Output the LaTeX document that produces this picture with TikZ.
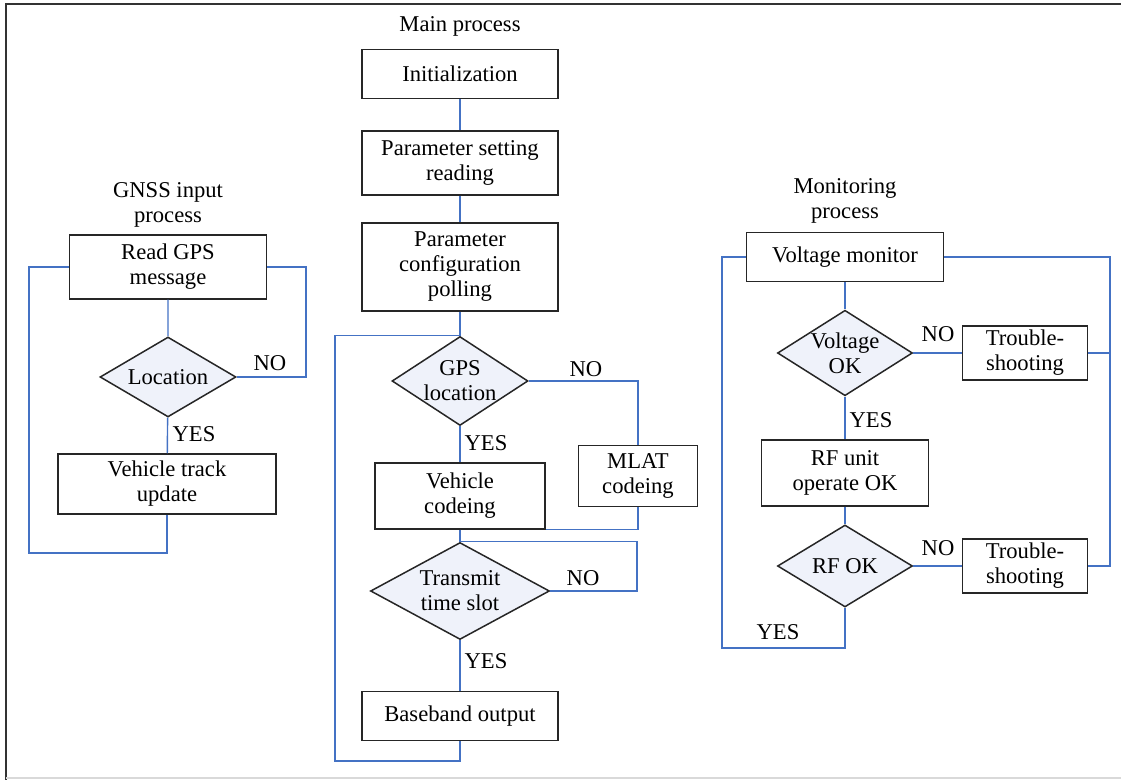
\documentclass[tikz,border=0pt]{standalone}
\usepackage{fontspec}
\setmainfont{Liberation Serif}
\usetikzlibrary{shapes.geometric}
\definecolor{linkblue}{RGB}{68,114,196}
\definecolor{diafill}{RGB}{239,242,250}
\tikzset{
flow/.style={x=0.5pt,y=-0.5pt,font=\rmfamily\fontsize{11.3}{12.5}\selectfont},
process/.style={rectangle,draw=black!85,line width=0.75pt,fill=white,align=center,inner sep=0pt},
decision/.style={diamond,draw=black!85,line width=0.75pt,fill=diafill,align=center,inner sep=-3pt},
link/.style={draw=linkblue,line width=0.7pt},
tag/.style={inner sep=0pt},
heading/.style={align=center,inner sep=0pt},
}
\begin{document}
\begin{tikzpicture}[flow]
\useasboundingbox (0,0) rectangle (1121,780);
\draw[black!80,line width=1pt] (6,780) -- (6,4) -- (1121,4);
\draw[black!15,line width=0.6pt] (6,778) -- (1121,778);

% GNSS input process
\node[heading] (gnsstitle) at (168,205) {GNSS input\\process};
\node[process,minimum width=98.5pt,minimum height=32pt] (read) at (168,267) {Read GPS\\message};
\node[decision,minimum width=68pt,minimum height=40pt] (loc) at (168,377) {Location};
\node[process,minimum width=109pt,minimum height=30pt] (track) at (167,484) {Vehicle track\\update};
\node[tag] (locno) at (270,363) {NO};
\node[tag] (locyes) at (194,434) {YES};

% Main process
\node[heading] (maintitle) at (460,26) {Main process};
\node[process,minimum width=98pt,minimum height=24.5pt] (init) at (460,74) {Initialization};
\node[process,minimum width=98pt,minimum height=32pt] (setting) at (460,163) {Parameter setting\\reading};
\node[process,minimum width=98pt,minimum height=44pt] (config) at (460,267) {Parameter\\configuration\\polling};
\node[decision,minimum width=68pt,minimum height=40.5pt] (gpsloc) at (460,381) {GPS\\location};
\node[process,minimum width=85pt,minimum height=33pt] (vcode) at (460,496) {Vehicle\\codeing};
\node[process,minimum width=59.5pt,minimum height=30.5pt] (mlat) at (638,476) {MLAT\\codeing};
\node[decision,minimum width=89.5pt,minimum height=40.5pt] (slot) at (460,591) {Transmit\\time slot};
\node[process,minimum width=98pt,minimum height=24.5pt] (baseband) at (460,716) {Baseband output};
\node[tag] (gpsno) at (586,369) {NO};
\node[tag] (gpsyes) at (486,443) {YES};
\node[tag] (slotno) at (583,578) {NO};
\node[tag] (slotyes) at (486,661) {YES};

% Monitoring process
\node[heading] (montitle) at (845,201) {Monitoring\\process};
\node[process,minimum width=98.5pt,minimum height=24.5pt] (vmon) at (845,257) {Voltage monitor};
\node[decision,minimum width=67.5pt,minimum height=40.5pt] (vok) at (845,353) {Voltage\\OK};
\node[process,minimum width=62.5pt,minimum height=27pt] (fixa) at (1025,353) {Trouble-\\shooting};
\node[process,minimum width=83.5pt,minimum height=33pt] (rfunit) at (845,473) {RF unit\\operate OK};
\node[decision,minimum width=67.5pt,minimum height=41pt] (rfok) at (845,566) {RF OK};
\node[process,minimum width=62.5pt,minimum height=27pt] (fixb) at (1025,566) {Trouble-\\shooting};
\node[tag] (vokno) at (938,334) {NO};
\node[tag] (vokyes) at (871,420) {YES};
\node[tag] (rfno) at (938,548) {NO};
\node[tag] (rfyes) at (778,632) {YES};
\coordinate (rbus) at (1110,257);

% connectors
\path[link] (read) -- (loc) (loc) -- (track);
\path[link] (read.west) -| (29,553) -| (track.south);
\path[link] (read.east) -| (306,377) -- (loc.east);

\path[link] (init) -- (setting) (setting) -- (config) (config) -- (gpsloc);
\path[link] (gpsloc) -- (vcode) (vcode) -- (slot) (slot) -- (baseband);
\path[link] (baseband.south) |- (335,761) |- (gpsloc.north);
\path[link] (gpsloc.east) -| (mlat.north);
\path[link] (mlat.south) |- (vcode.south east);
\path[link] (slot.north) -| (637,591) -- (slot.east);

\path[link] (vmon) -- (vok) (vok) -- (rfunit) (rfunit) -- (rfok);
\path[link] (vok) -- (fixa) (rfok) -- (fixb);
\path[link] (vmon.east) -| (rbus |- fixb.east) -- (fixb.east);
\path[link] (fixa.east) -- (fixa.east -| rbus);
\path[link] (rfok.south) |- (722,648) |- (vmon.west);
\end{tikzpicture}
\end{document}
